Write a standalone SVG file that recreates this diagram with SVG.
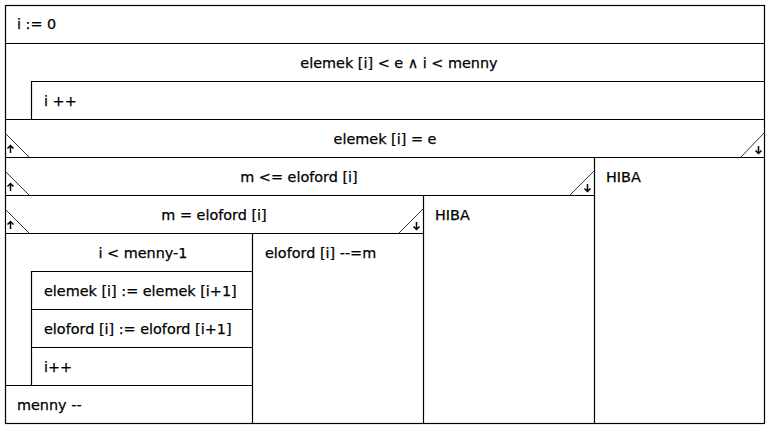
<svg xmlns="http://www.w3.org/2000/svg" width="771" height="429" viewBox="0 0 771 429">
<style>
.ln{stroke:#000;stroke-width:1.2;fill:none}
.dg{stroke:#000;stroke-width:0.8;fill:none}
.ar{stroke:#000;stroke-width:1.5;fill:none}
text{font-family:"DejaVu Sans","Liberation Sans",sans-serif;font-size:14.4px;fill:#000;stroke:#000;stroke-width:0.25}
.c{text-anchor:middle}
</style>
<rect x="0" y="0" width="771" height="429" fill="#fff"/>
<g id="frame"><rect class="ln" x="5.5" y="5.5" width="759" height="418"/></g>
<g id="init">
<line class="ln" x1="5" y1="43.5" x2="764" y2="43.5"/>
<text x="17" y="29">i := 0</text>
</g>
<g id="loop1">
<text class="c" x="399" y="68">elemek [i] &lt; e ∧ i &lt; menny</text>
<line class="ln" x1="31" y1="81.5" x2="764" y2="81.5"/>
<line class="ln" x1="31.5" y1="81" x2="31.5" y2="119"/>
<text x="44" y="106">i ++</text>
<line class="ln" x1="5" y1="119.5" x2="764" y2="119.5"/>
</g>
<g id="if1">
<text class="c" x="385" y="144">elemek [i] = e</text>
<line class="dg" x1="5" y1="133" x2="29" y2="157"/>
<line class="dg" x1="764" y1="133" x2="741" y2="157"/>
<line class="ln" x1="5" y1="157.5" x2="764" y2="157.5"/>
<line class="ln" x1="594.5" y1="157" x2="594.5" y2="423"/>
<text x="606" y="182">HIBA</text>
</g>
<g id="if2">
<text class="c" x="299" y="182">m &lt;= eloford [i]</text>
<line class="dg" x1="5" y1="171" x2="29" y2="195"/>
<line class="dg" x1="594" y1="171" x2="570" y2="195"/>
<line class="ln" x1="5" y1="195.5" x2="594" y2="195.5"/>
<line class="ln" x1="423.5" y1="195" x2="423.5" y2="423"/>
<text x="435" y="220">HIBA</text>
</g>
<g id="if3">
<text class="c" x="214" y="220">m = eloford [i]</text>
<line class="dg" x1="5" y1="209" x2="29" y2="233"/>
<line class="dg" x1="423" y1="209" x2="399" y2="233"/>
<line class="ln" x1="5" y1="233.5" x2="423" y2="233.5"/>
<line class="ln" x1="252.5" y1="233" x2="252.5" y2="423"/>
<text x="265" y="258">eloford [i] --=m</text>
</g>
<g id="loop2">
<text class="c" x="143" y="258">i &lt; menny-1</text>
<line class="ln" x1="31" y1="271.5" x2="252" y2="271.5"/>
<line class="ln" x1="31.5" y1="271" x2="31.5" y2="385"/>
<text x="44" y="296">elemek [i] := elemek [i+1]</text>
<line class="ln" x1="31" y1="309.5" x2="252" y2="309.5"/>
<text x="44" y="334">eloford [i] := eloford [i+1]</text>
<line class="ln" x1="31" y1="347.5" x2="252" y2="347.5"/>
<text x="44" y="372">i++</text>
<line class="ln" x1="5" y1="385.5" x2="252" y2="385.5"/>
<text x="17" y="410">menny --</text>
</g>
<g id="arrows">
<path class="ar" d="M10.5 153V145.5M7.5 148.5L10.5 145.5L13.5 148.5"/>
<path class="ar" d="M10.5 191V183.5M7.5 186.5L10.5 183.5L13.5 186.5"/>
<path class="ar" d="M10.5 229V221.5M7.5 224.5L10.5 221.5L13.5 224.5"/>
<path class="ar" d="M758.5 146V153.5M755.5 150.5L758.5 153.5L761.5 150.5"/>
<path class="ar" d="M587.5 184V191.5M584.5 188.5L587.5 191.5L590.5 188.5"/>
<path class="ar" d="M416.5 222V229.5M413.5 226.5L416.5 229.5L419.5 226.5"/>
</g>
</svg>
